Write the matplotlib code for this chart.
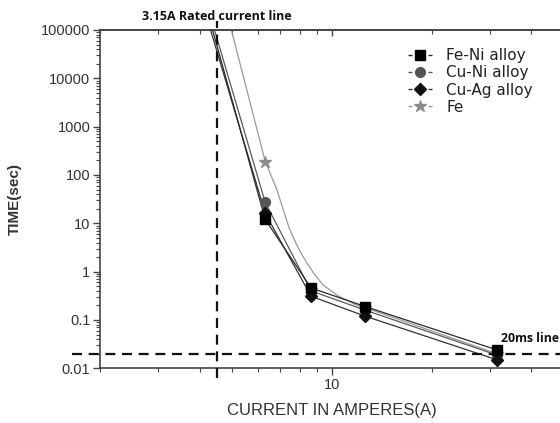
"""Fusing time vs. current for fuse element alloys (log-log), with the
rated current and 20 ms reference lines."""

import matplotlib

matplotlib.use("Agg")
import matplotlib.pyplot as plt
from matplotlib.ticker import FixedLocator, LogLocator, NullFormatter
from matplotlib.transforms import blended_transform_factory

plt.rcParams["font.family"] = ["Liberation Sans", "DejaVu Sans"]

# measured test currents (A)
test_current = [6.3, 8.66, 12.6, 31.5]

# fusing time (s) per element material
time_feni = [12, 0.46, 0.19, 0.024]
time_cuni = [27, 0.40, 0.16, 0.0188]
time_cuag = [16, 0.31, 0.12, 0.015]
time_fe = [190, 0.42, 0.18, 0.020]

# traced curves (current, time); upper ends leave the plot at 1e5 s
curve_feni_i = [4.37, 6.3, 8.66, 12.6, 31.5]
curve_feni_t = [1e5, 12, 0.46, 0.19, 0.024]
curve_cuni_i = [4.43, 6.3, 8.66, 12.6, 31.5]
curve_cuni_t = [1e5, 27, 0.40, 0.16, 0.0188]
curve_cuag_i = [4.31, 6.3, 8.66, 12.6, 31.5]
curve_cuag_t = [1e5, 16, 0.31, 0.12, 0.015]
curve_fe_i = [4.98, 6.3, 6.80, 7.44, 7.9, 8.37, 8.9, 9.42, 10.4,
              11.83, 12.6, 31.5]
curve_fe_t = [1e5, 190, 54, 8.0, 3.2, 1.59, 0.85, 0.53, 0.32,
              0.205, 0.18, 0.020]

series_names = ["Fe-Ni alloy", "Cu-Ni alloy", "Cu-Ag alloy", "Fe"]

rated_line_x = 4.5
rated_label = "3.15A Rated current line"
ms20_line_y = 0.02
ms20_label = "20ms line"

y_ticks = [0.01, 0.1, 1, 10, 100, 1000, 10000, 100000]
y_tick_labels = ["0.01", "0.1", "1", "10", "100", "1000", "10000", "100000"]
x_ticks = [10]
x_tick_labels = ["10"]

AX_COL = "#444444"
TXT_COL = "#333333"
NOTE_FONT = ["Open Sans", "DejaVu Sans"]

fig = plt.figure(figsize=(5.6, 4.23), dpi=100)
ax = fig.add_axes([0.1786, 0.1293, 0.8277, 0.7998])
ax.set_xscale("log")
ax.set_yscale("log")
ax.set_xlim(2, 50)
ax.set_ylim(0.01, 1e5)

styles = {
    # name: (curve x, curve y, times, marker, marker colour, line colour, ms, z)
    "Fe": (curve_fe_i, curve_fe_t, time_fe, "*", "#8a8a8a", "#999999", 9, 2),
    "Cu-Ni alloy": (curve_cuni_i, curve_cuni_t, time_cuni, "o", "#555555",
                    "#5a5a5a", 7, 3),
    "Cu-Ag alloy": (curve_cuag_i, curve_cuag_t, time_cuag, "D", "#111111",
                    "#333333", 6, 4),
    "Fe-Ni alloy": (curve_feni_i, curve_feni_t, time_feni, "s", "#000000",
                    "#2a2a2a", 6.5, 5),
}
handles = {}
for name, (cx, cy, ty, mk, mcol, lcol, ms, z) in styles.items():
    ax.plot(cx, cy, color=lcol, lw=0.9, zorder=z)
    ax.plot(test_current, ty, ls="none", marker=mk, ms=ms, color=mcol,
            mec=mcol, zorder=z + 5)
    # legend key drawn as "-marker-"
    handles[name] = plt.Line2D([], [], color=lcol, lw=1.0,
                               ls=(0, (2.9, 11.5)), marker=mk, ms=ms,
                               mfc=mcol, mec=mcol)

# reference lines
ax.plot([rated_line_x, rated_line_x], [6.3e-3, 1.5e5], color="#111111",
        lw=1.6, ls=(0, (4.5, 3)), clip_on=False, zorder=6)
ax.plot([1.65, 50], [ms20_line_y, ms20_line_y], color="#111111",
        lw=1.6, ls=(0, (4.5, 3)), clip_on=False, zorder=6)
trans = blended_transform_factory(ax.transData, ax.transAxes)
ax.text(rated_line_x, 1.04, rated_label, transform=trans, ha="center",
        va="center", fontsize=9, fontweight="bold", family=NOTE_FONT,
        color="#111111", clip_on=False)
ax.text(32.4, 0.042, ms20_label, ha="left", va="center", fontsize=8.8,
        fontweight="bold", family=NOTE_FONT, color="#111111", clip_on=False)

# axes styling
for side in ["left", "bottom", "top"]:
    ax.spines[side].set_color(AX_COL)
    ax.spines[side].set_linewidth(1.2)
ax.spines["right"].set_visible(False)

ax.xaxis.set_major_locator(FixedLocator(x_ticks))
ax.set_xticklabels(x_tick_labels)
ax.xaxis.set_minor_locator(LogLocator(base=10, subs=range(2, 10)))
ax.xaxis.set_minor_formatter(NullFormatter())
ax.yaxis.set_major_locator(FixedLocator(y_ticks))
ax.set_yticklabels(y_tick_labels)
ax.yaxis.set_minor_locator(LogLocator(base=10, subs=range(2, 10), numticks=20))
ax.yaxis.set_minor_formatter(NullFormatter())

ax.tick_params(axis="both", which="major", direction="out", length=5,
               width=1.0, color=AX_COL, labelcolor=TXT_COL, labelsize=10.5,
               pad=2)
ax.tick_params(axis="both", which="minor", direction="out", length=3,
               width=0.8, color=AX_COL)

top = ax.secondary_xaxis("top")
top.xaxis.set_major_locator(FixedLocator(x_ticks))
top.xaxis.set_minor_locator(LogLocator(base=10, subs=range(2, 10)))
top.xaxis.set_minor_formatter(NullFormatter())
top.tick_params(which="major", direction="in", length=4, width=1.0,
                color=AX_COL, labeltop=False)
top.tick_params(which="minor", direction="in", length=3, width=0.8,
                color=AX_COL)
top.spines["top"].set_color(AX_COL)
top.spines["top"].set_linewidth(1.2)

ax.set_xlabel("CURRENT IN AMPERES(A)", fontsize=12, color=TXT_COL)
ax.xaxis.set_label_coords(0.5, -0.104)
ax.set_ylabel("TIME(sec)", fontsize=11, fontweight="bold", color=TXT_COL)
ax.yaxis.set_label_coords(-0.168, 0.5)

leg = ax.legend([handles[n] for n in series_names], series_names,
                loc="upper left", bbox_to_anchor=(0.664, 0.947),
                frameon=False, handlelength=1.57, handletextpad=0.95,
                labelspacing=0.15, borderpad=0, borderaxespad=0,
                prop={"family": "DejaVu Sans", "size": 11})
for t in leg.get_texts():
    t.set_color("#222222")

fig.savefig("out.png", dpi=100)
